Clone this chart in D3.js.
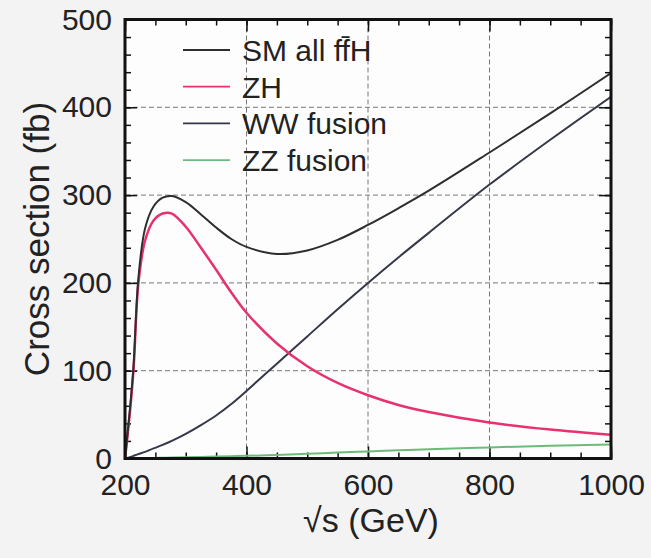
<!DOCTYPE html>
<html>
<head>
<meta charset="utf-8">
<script src="https://cdn.jsdelivr.net/npm/d3@7"></script>
<style>
  body { margin: 0; background: #f3f3f3; }
  svg { display: block; font-family: "Liberation Sans", Arial, Helvetica, sans-serif; }
</style>
</head>
<body>
<div id="chart"></div>
<script>
// centre-of-mass energy (GeV)
const sqrtS = [200, 203, 208, 214, 222, 233, 247, 262, 277, 300, 325, 350, 375, 400, 450, 500, 550, 600, 650, 700, 800, 900, 1000];

// cross sections (fb)
const smAll  = [0, 20, 55, 105, 205, 262, 287, 297, 299, 292, 278, 263, 250, 241, 233, 237, 249, 266, 285, 305, 348.5, 393, 439];
const zh     = [0, 18, 52, 101, 199, 248, 271, 279, 279, 264, 240, 215, 189, 166, 131, 105, 86, 72, 61, 53, 41, 33, 27];
const wwFus  = [0, 0.5, 1.5, 3, 5, 7.5, 11.5, 15.5, 20, 28, 38, 49, 62, 77, 108, 139, 170, 200, 229, 257, 312, 363, 412];
const zzFus  = [0, 0, 0.1, 0.2, 0.3, 0.5, 0.7, 0.9, 1.1, 1.4, 1.8, 2.2, 2.6, 3, 4, 5.3, 6.7, 8, 9.3, 10.5, 12.6, 14.5, 16];

const seriesNames  = ["SM all ff\u0304H", "ZH", "WW fusion", "ZZ fusion"];
const seriesColors = ["#2e2e2e", "#e8326e", "#35384a", "#6dbb7a"];
const seriesWidths = [2, 2.5, 2, 2];

const xMajor = [200, 400, 600, 800, 1000];
const yMajor = [0, 100, 200, 300, 400, 500];
const xGrid = [400, 600, 800];
const yGrid = [100, 200, 300, 400];

const width = 651, height = 558;
const pLeft = 125, pRight = 611, pTop = 19.5, pBottom = 458.5;

const svg = d3.select("#chart").append("svg")
  .attr("width", width)
  .attr("height", height);

const x = d3.scaleLinear().domain([200, 1000]).range([pLeft, pRight]);
const y = d3.scaleLinear().domain([0, 500]).range([pBottom, pTop]);

// plot background
svg.append("rect")
  .attr("x", pLeft).attr("y", pTop)
  .attr("width", pRight - pLeft).attr("height", pBottom - pTop)
  .attr("fill", "#fdfdfd");

// grid
const grid = svg.append("g")
  .attr("stroke", "#777")
  .attr("stroke-width", 1)
  .attr("stroke-dasharray", "5,3");
grid.selectAll(".gx").data(xGrid).join("line")
  .attr("x1", d => x(d)).attr("x2", d => x(d))
  .attr("y1", pTop).attr("y2", pBottom);
grid.selectAll(".gy").data(yGrid).join("line")
  .attr("x1", pLeft).attr("x2", pRight)
  .attr("y1", d => y(d)).attr("y2", d => y(d));

// ticks on all four sides, pointing inward
const xMinor = d3.range(200, 1001, 50);
const yMinor = d3.range(0, 501, 20);

function styleAxis(g) {
  g.select(".domain").remove();
  g.selectAll(".tick line").attr("stroke", "#111").attr("stroke-width", 1.5);
  g.selectAll("text")
    .attr("fill", "#222")
    .style("font-size", "30px");
}

svg.append("g").attr("transform", `translate(0,${pBottom})`)
  .call(d3.axisBottom(x).tickValues(xMinor).tickSize(-6).tickFormat("")).call(styleAxis);
svg.append("g").attr("transform", `translate(0,${pTop})`)
  .call(d3.axisTop(x).tickValues(xMinor).tickSize(-6).tickFormat("")).call(styleAxis);
svg.append("g").attr("transform", `translate(${pLeft},0)`)
  .call(d3.axisLeft(y).tickValues(yMinor).tickSize(-6).tickFormat("")).call(styleAxis);
svg.append("g").attr("transform", `translate(${pRight},0)`)
  .call(d3.axisRight(y).tickValues(yMinor).tickSize(-6).tickFormat("")).call(styleAxis);

svg.append("g").attr("transform", `translate(0,${pBottom})`)
  .call(d3.axisBottom(x).tickValues(xMajor).tickSize(-12).tickPadding(15).tickFormat(d3.format("d")))
  .call(styleAxis);
svg.append("g").attr("transform", `translate(0,${pTop})`)
  .call(d3.axisTop(x).tickValues(xMajor).tickSize(-12).tickFormat("")).call(styleAxis);
svg.append("g").attr("transform", `translate(${pLeft},0)`)
  .call(d3.axisLeft(y).tickValues(yMajor).tickSize(-12).tickPadding(13).tickFormat(d3.format("d")))
  .call(styleAxis);
svg.append("g").attr("transform", `translate(${pRight},0)`)
  .call(d3.axisRight(y).tickValues(yMajor).tickSize(-12).tickFormat("")).call(styleAxis);

// curves
svg.append("clipPath").attr("id", "plot-clip")
  .append("rect")
  .attr("x", pLeft).attr("y", pTop)
  .attr("width", pRight - pLeft).attr("height", pBottom - pTop);

const allSeries = [smAll, zh, wwFus, zzFus];
const line = d3.line()
  .x((d, i) => x(sqrtS[i]))
  .y(d => y(d))
  .curve(d3.curveCatmullRom.alpha(0.5));

// draw ZZ first so it sits under the rest
svg.append("g")
  .attr("clip-path", "url(#plot-clip)")
  .attr("fill", "none")
  .selectAll("path")
  .data([3, 2, 1, 0])
  .join("path")
  .attr("d", k => line(allSeries[k]))
  .attr("stroke", k => seriesColors[k])
  .attr("stroke-width", k => seriesWidths[k]);

// frame
svg.append("rect")
  .attr("x", pLeft).attr("y", pTop)
  .attr("width", pRight - pLeft).attr("height", pBottom - pTop)
  .attr("fill", "none")
  .attr("stroke", "#111")
  .attr("stroke-width", 3);

// legend
const legend = svg.append("g")
  .selectAll("g")
  .data(seriesNames)
  .join("g")
  .attr("transform", (d, i) => `translate(183,${50 + i * 36.7})`);

legend.append("line")
  .attr("x1", 0).attr("x2", 47)
  .attr("stroke", (d, i) => seriesColors[i])
  .attr("stroke-width", 1.8);

legend.append("text")
  .attr("x", 59)
  .attr("dy", "0.36em")
  .attr("fill", "#222")
  .style("font-size", "30px")
  .text(d => d);

// axis titles
svg.append("text")
  .attr("x", (pLeft + pRight) / 2 + 3)
  .attr("y", 532)
  .attr("text-anchor", "middle")
  .attr("fill", "#222")
  .style("font-size", "34px")
  .text("\u221As (GeV)");

svg.append("text")
  .attr("transform", `translate(49,${(pTop + pBottom) / 2}) rotate(-90)`)
  .attr("text-anchor", "middle")
  .attr("fill", "#222")
  .style("font-size", "35px")
  .text("Cross section (fb)");
</script>
</body>
</html>
